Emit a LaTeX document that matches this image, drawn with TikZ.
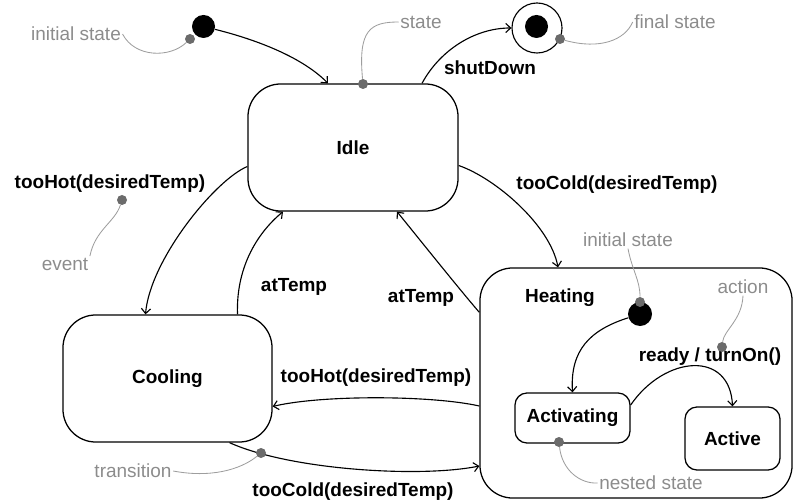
\documentclass[tikz,border=0pt]{standalone}
\usepackage{fontspec}
\setmainfont{Liberation Sans}
\usetikzlibrary{arrows.meta,calc}
\definecolor{notetext}{gray}{0.55}
\definecolor{notedotc}{gray}{0.42}
\definecolor{notelinec}{gray}{0.62}
\tikzset{
    statebox/.style={draw,black,line width=0.9pt,rounded corners=0.82cm,font=\fontsize{13.5}{15}\selectfont\bfseries},
    substate/.style={draw,black,line width=0.9pt,rounded corners=0.3cm,font=\fontsize{13.5}{15}\selectfont\bfseries},
    startdot/.style={circle,fill=black,inner sep=0pt},
    trans/.style={black,line width=0.8pt,-{Straight Barb[length=3.5pt,width=6.5pt]}},
    evlabel/.style={font=\fontsize{13.5}{15}\selectfont\bfseries,inner sep=1pt},
    notelabel/.style={text=notetext,font=\fontsize{13.5}{15}\selectfont,inner sep=1pt},
    notedot/.style={circle,fill=notedotc,inner sep=0pt,minimum size=0.25cm},
    noteline/.style={notelinec,line width=0.6pt}
}
\begin{document}
\begin{tikzpicture}[x=0.025cm,y=-0.025cm]
    \useasboundingbox (0,0) rectangle (793,503);
    \node[statebox,minimum width=5.25cm,minimum height=3.175cm] (idle) at (353,147.5) {Idle};
    \node[statebox,minimum width=5.225cm,minimum height=3.175cm] (cooling) at (167.5,378.5) {Cooling};
    \node[statebox,minimum width=7.8cm,minimum height=5.75cm] (heating) at (636,383) {};
    \node[evlabel] (heatname) at (560,298) {Heating};
    \node[substate,minimum width=2.875cm,minimum height=1.25cm] (activating) at (572.5,418) {Activating};
    \node[substate,minimum width=2.375cm,minimum height=1.575cm] (active) at (732.5,438.5) {Active};
    \node[startdot,minimum size=0.575cm] (init) at (203.5,26.5) {};
    \node[startdot,minimum size=0.6cm] (hinit) at (640,314) {};
    \node[circle,draw,black,line width=0.8pt,minimum size=1.25cm,inner sep=0pt] (finalring) at (537,28) {};
    \node[startdot,minimum size=0.575cm] (finaldot) at (536.5,26.5) {};
    \draw[trans] (init) .. controls (250,38) and (300,55) .. ($(idle.north)+(-25,0)$);
    \draw[trans] ($(idle.north)+(69,0)$) .. controls (440,50) and (475,28) .. (finalring);
    \draw[trans] ($(idle.west)+(0,19)$) .. controls (215,180) and (150,260) .. ($(cooling.north)+(-22,0)$);
    \draw[trans] ($(cooling.north)+(70,0)$) .. controls (236,270) and (255,235) .. ($(idle.south)+(-70,0)$);
    \draw[trans] ($(heating.north west)+(0,45)$) .. controls (460,290) and (420,240) .. ($(idle.south)+(44,0)$);
    \draw[trans] ($(idle.east)+(0,18)$) .. controls (495,178) and (550,225) .. ($(heating.north)+(-78,0)$);
    \draw[trans] ($(heating.west)+(0,23)$) .. controls (430,395) and (320,395) .. ($(cooling.east)+(0,28)$);
    \draw[trans] ($(cooling.south)+(62,0)$) .. controls (290,470) and (420,478) .. ($(heating.west)+(0,83)$);
    \draw[trans] (hinit) .. controls (590,330) and (570,350) .. (activating.north);
    \draw[trans] ($(activating.east)+(0,-13)$) .. controls (665,355) and (730,350) .. (active.north);
    \node[evlabel] (lbshut) at (490,68) {shutDown};
    \node[evlabel] (lbhotidle) at (110,184) {tooHot(desiredTemp)};
    \node[evlabel] (lbcoldidle) at (617,185) {tooCold(desiredTemp)};
    \node[evlabel] (lbatcool) at (294,287) {atTemp};
    \node[evlabel] (lbatheat) at (421,298) {atTemp};
    \node[evlabel] (lbhotheat) at (376,378) {tooHot(desiredTemp)};
    \node[evlabel] (lbcoldcool) at (353,492) {tooCold(desiredTemp)};
    \node[evlabel] (lbready) at (710,357) {ready / turnOn()};
    \node[notelabel] (initnote) at (76,34) {initial state};
    \node[notelabel] (statenote) at (421,22) {state};
    \node[notelabel] (finalnote) at (675,22) {final state};
    \node[notelabel] (eventnote) at (65,264) {event};
    \node[notelabel] (transnote) at (133,471) {transition};
    \node[notelabel] (hinitnote) at (628,240) {initial state};
    \node[notelabel] (actionnote) at (743,287) {action};
    \node[notelabel] (nestednote) at (651,483) {nested state};
    \node[notedot] (initdot) at (190,39) {};
    \node[notedot] (statedot) at (363,84) {};
    \node[notedot] (fdot) at (560,39) {};
    \node[notedot] (eventdot) at (122,200) {};
    \node[notedot] (transdot) at (261,453) {};
    \node[notedot] (hinitdot) at (640,302) {};
    \node[notedot] (actiondot) at (722,347) {};
    \node[notedot] (nesteddot) at (559,442) {};
    \draw[noteline] (initnote.east) .. controls (135,58) and (170,58) .. (initdot);
    \draw[noteline] (statedot) .. controls (358,30) and (370,22) .. (statenote.west);
    \draw[noteline] (fdot) .. controls (600,50) and (625,40) .. (finalnote.west);
    \draw[noteline] (eventdot) .. controls (115,222) and (95,230) .. (eventnote.north east);
    \draw[noteline] (transdot) .. controls (240,470) and (210,478) .. (transnote.east);
    \draw[noteline] (hinitnote.south) .. controls (632,270) and (640,280) .. (hinitdot);
    \draw[noteline] (actionnote.south) .. controls (742,320) and (724,330) .. (actiondot);
    \draw[noteline] (nesteddot) .. controls (562,470) and (580,484) .. (nestednote.west);
\end{tikzpicture}
\end{document}
